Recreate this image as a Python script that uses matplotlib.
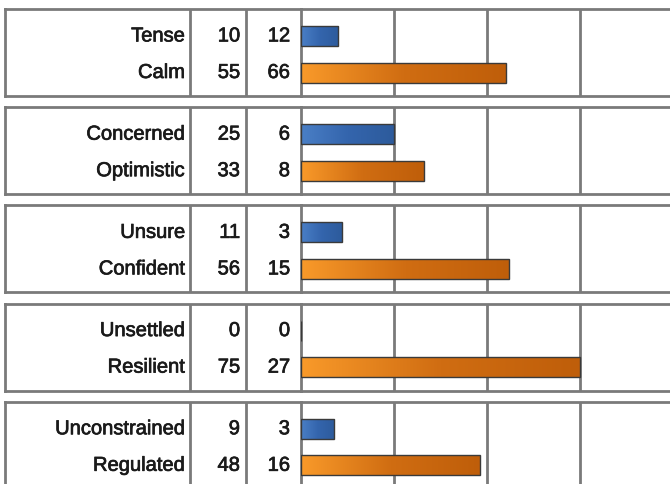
import numpy as np
import matplotlib
matplotlib.use("Agg")
import matplotlib.pyplot as plt
import matplotlib.patheffects as pe
from matplotlib.colors import LinearSegmentedColormap

plt.rcParams['font.family'] = ['Liberation Sans', 'DejaVu Sans']

# one panel per pair of opposing states
neg_labels = ["Tense", "Concerned", "Unsure", "Unsettled", "Unconstrained"]
pos_labels = ["Calm", "Optimistic", "Confident", "Resilient", "Regulated"]
neg_pct = [10, 25, 11, 0, 9]
pos_pct = [55, 33, 56, 75, 48]
neg_count = [12, 6, 3, 0, 3]
pos_count = [66, 8, 15, 27, 16]

W, H = 670, 485
GREY = "#7a7a7a"
blue_cmap = LinearSegmentedColormap.from_list("blu", ["#4a7fc6", "#3465ad", "#2d5b9c"])
orange_cmap = LinearSegmentedColormap.from_list("org", ["#f99a2a", "#d06d12", "#bf5e0a"])
ROWS = (0.12, 0.96)
BAR_H = 0.46
FS = 14.5
BOLDISH = [pe.withStroke(linewidth=0.5, foreground="#1a1a1a")]

fig = plt.figure(figsize=(W / 100, H / 100), dpi=100)


def px_axes(x0, y0, x1, y1):
    # axes placed with pixel edges (y measured from top)
    return fig.add_axes([x0 / W, 1 - y1 / H, (x1 - x0) / W, (y1 - y0) / H])


def gradient_bar(ax, y, val, cmap):
    bars = ax.barh([y], [val], height=BAR_H, color="none",
                   edgecolor="#3a3a3a", linewidth=1.0, zorder=3)
    bar = bars[0]
    grad = np.linspace(0, 1, 256).reshape(1, -1)
    im = ax.imshow(grad, cmap=cmap, aspect="auto", zorder=2,
                   extent=[0, max(val, 1e-6), y + BAR_H / 2, y - BAR_H / 2])
    im.set_clip_path(bar)


top0, step, ph = 10, 98.2, 87
for i in range(5):
    top = top0 + i * step
    bot = top + ph

    # left table part: label | percent | count
    tab = px_axes(5, top, 301, bot)
    tab.set_xlim(5, 301)
    tab.set_ylim(1.5, -0.5)
    tab.set_xticks([])
    tab.set_yticks([])
    for s in tab.spines.values():
        s.set_color(GREY)
        s.set_linewidth(2)
    for xd in (190, 246):
        tab.axvline(xd, color=GREY, lw=2)
    rows = [(neg_labels[i], neg_pct[i], neg_count[i]),
            (pos_labels[i], pos_pct[i], pos_count[i])]
    for yy, (lab, pct, cnt) in zip(ROWS, rows):
        for xx, s in ((185, lab), (240, str(pct)), (290, str(cnt))):
            tab.text(xx, yy, s, ha="right", va="center", fontsize=FS,
                     color="#1a1a1a", path_effects=BOLDISH)

    # bar part, 0-100 scale
    ax = px_axes(301, top, 673, bot)
    ax.set_xlim(0, 100)
    ax.set_ylim(1.5, -0.5)
    ax.set_xticks([0, 25, 50, 75, 100])
    ax.set_yticks([])
    ax.tick_params(length=0, labelbottom=False)
    ax.grid(axis="x", color=GREY, lw=2, zorder=0)
    ax.set_axisbelow(True)
    for s in ax.spines.values():
        s.set_color(GREY)
        s.set_linewidth(2)
    ax.spines["left"].set_visible(False)
    gradient_bar(ax, ROWS[0], neg_pct[i], blue_cmap)
    gradient_bar(ax, ROWS[1], pos_pct[i], orange_cmap)

fig.savefig("out.png", dpi=100)
